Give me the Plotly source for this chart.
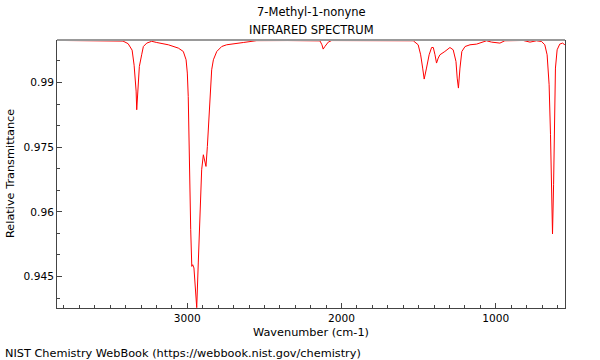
import plotly.graph_objects as go

wavenumber = [3845, 3700, 3550, 3450, 3417, 3384, 3358, 3345, 3339, 3332, 3328, 3321, 3311, 3296, 3285,
              3263, 3231, 3198, 3123, 3058, 3026, 3008, 3000, 2994, 2987, 2978, 2971, 2965, 2957, 2950,
              2939, 2929, 2918, 2907, 2896, 2885, 2879, 2870, 2861, 2853, 2842, 2831, 2809, 2777, 2745,
              2637, 2550, 2350, 2140, 2127, 2119, 2108, 2086, 2064, 1850, 1621, 1535, 1503, 1487, 1474,
              1464, 1449, 1432, 1416, 1405, 1394, 1384, 1373, 1362, 1330, 1297, 1276, 1258, 1250, 1242,
              1232, 1220, 1199, 1167, 1124, 1082, 1060, 1027, 973, 941, 822, 778, 736, 703, 682, 667,
              654, 645, 636, 632, 625, 619, 613, 602, 585, 567, 552]
transmittance = [0.99975, 0.99970, 0.99972, 0.99968, 0.99960, 0.99900, 0.99750, 0.99400, 0.99180, 0.98800,
                 0.98367, 0.98907, 0.99371, 0.99642, 0.99834, 0.99913, 0.99955, 0.99927, 0.99874, 0.99797,
                 0.99719, 0.99526, 0.99218, 0.98675, 0.97132, 0.95586, 0.94735, 0.94774, 0.94698, 0.94350,
                 0.93778, 0.94814, 0.95973, 0.96976, 0.97324, 0.97169, 0.97053, 0.97516, 0.98059, 0.98675,
                 0.99294, 0.99526, 0.99719, 0.99834, 0.99874, 0.99927, 0.99970, 0.99972, 0.99965, 0.99874,
                 0.99774, 0.99834, 0.99936, 0.99972, 0.99975, 0.99980, 0.99967, 0.99874, 0.99642, 0.99334,
                 0.99079, 0.99334, 0.99642, 0.99811, 0.99811, 0.99642, 0.99450, 0.99566, 0.99642, 0.99719,
                 0.99811, 0.99758, 0.99487, 0.99102, 0.98870, 0.99334, 0.99719, 0.99834, 0.99874, 0.99890,
                 0.99936, 0.99967, 0.99936, 0.99913, 0.99967, 0.99974, 0.99936, 0.99967, 0.99950, 0.99874,
                 0.99642, 0.98947, 0.97788, 0.96242, 0.95486, 0.96629, 0.98175, 0.99334, 0.99758, 0.99890,
                 0.99913, 0.99874]

x_tickvals = [3000, 2000, 1000]
y_tickvals = [0.945, 0.96, 0.975, 0.99]
y_ticktext = ["0.945", "0.96", "0.975", "0.99"]

FONT = "DejaVu Sans"

fig = go.Figure()
fig.add_trace(go.Scatter(x=wavenumber, y=transmittance, mode="lines",
                         line=dict(color="rgb(255,0,0)", width=1), hoverinfo="skip"))

fig.update_layout(
    width=600, height=360,
    margin=dict(l=57, r=35, t=40, b=52, autoexpand=False),
    paper_bgcolor="white", plot_bgcolor="white",
    showlegend=False,
    font=dict(family=FONT, size=10.6, color="black"),
    xaxis=dict(
        range=[3845, 551], autorange=False, automargin=False,
        tickmode="array", tickvals=x_tickvals,
        ticks="inside", ticklen=5, tickcolor="#444", tickwidth=1,
        showline=True, linecolor="#444", linewidth=1, mirror=False,
        showgrid=False, zeroline=False,
        minor=dict(tickmode="linear", tick0=0, dtick=100, ticks="inside", ticklen=3,
                   tickcolor="#444", showgrid=False),
    ),
    yaxis=dict(
        range=[0.9377, 0.99985], autorange=False, automargin=False,
        tickmode="array", tickvals=y_tickvals, ticktext=y_ticktext,
        ticks="inside", ticklen=5, tickcolor="#444", tickwidth=1,
        showline=True, linecolor="#444", linewidth=1, mirror=True,
        showgrid=False, zeroline=False,
        minor=dict(tickmode="linear", tick0=0, dtick=0.005, ticks="inside", ticklen=3,
                   tickcolor="#444", showgrid=False),
    ),
)

fig.add_shape(type="line", xref="paper", yref="paper", x0=0, x1=1, y0=1, y1=1,
              line=dict(color="#999999", width=2))

fig.add_annotation(text="7-Methyl-1-nonyne", xref="paper", yref="paper", x=0.5, y=1.1045,
                   xanchor="center", yanchor="middle", showarrow=False, font=dict(size=11.5))
fig.add_annotation(text="INFRARED SPECTRUM", xref="paper", yref="paper", x=0.5, y=1.0373,
                   xanchor="center", yanchor="middle", showarrow=False, font=dict(size=11.5))
fig.add_annotation(text="Wavenumber (cm-1)", xref="paper", yref="paper", x=0.5, y=-0.0922,
                   xanchor="center", yanchor="middle", showarrow=False, font=dict(size=11.3))
fig.add_annotation(text="Relative Transmittance", xref="paper", yref="paper", x=-0.0925, y=0.5,
                   xanchor="center", yanchor="middle", textangle=-90, showarrow=False,
                   font=dict(size=11.3))
fig.add_annotation(text="NIST Chemistry WebBook (https://webbook.nist.gov/chemistry)",
                   xref="paper", yref="paper", x=-0.1063, y=-0.168,
                   xanchor="left", yanchor="middle", showarrow=False, font=dict(size=11.3))

fig.write_html("out.html", config={"displayModeBar": False},
               post_script="document.body.style.margin='0';")
